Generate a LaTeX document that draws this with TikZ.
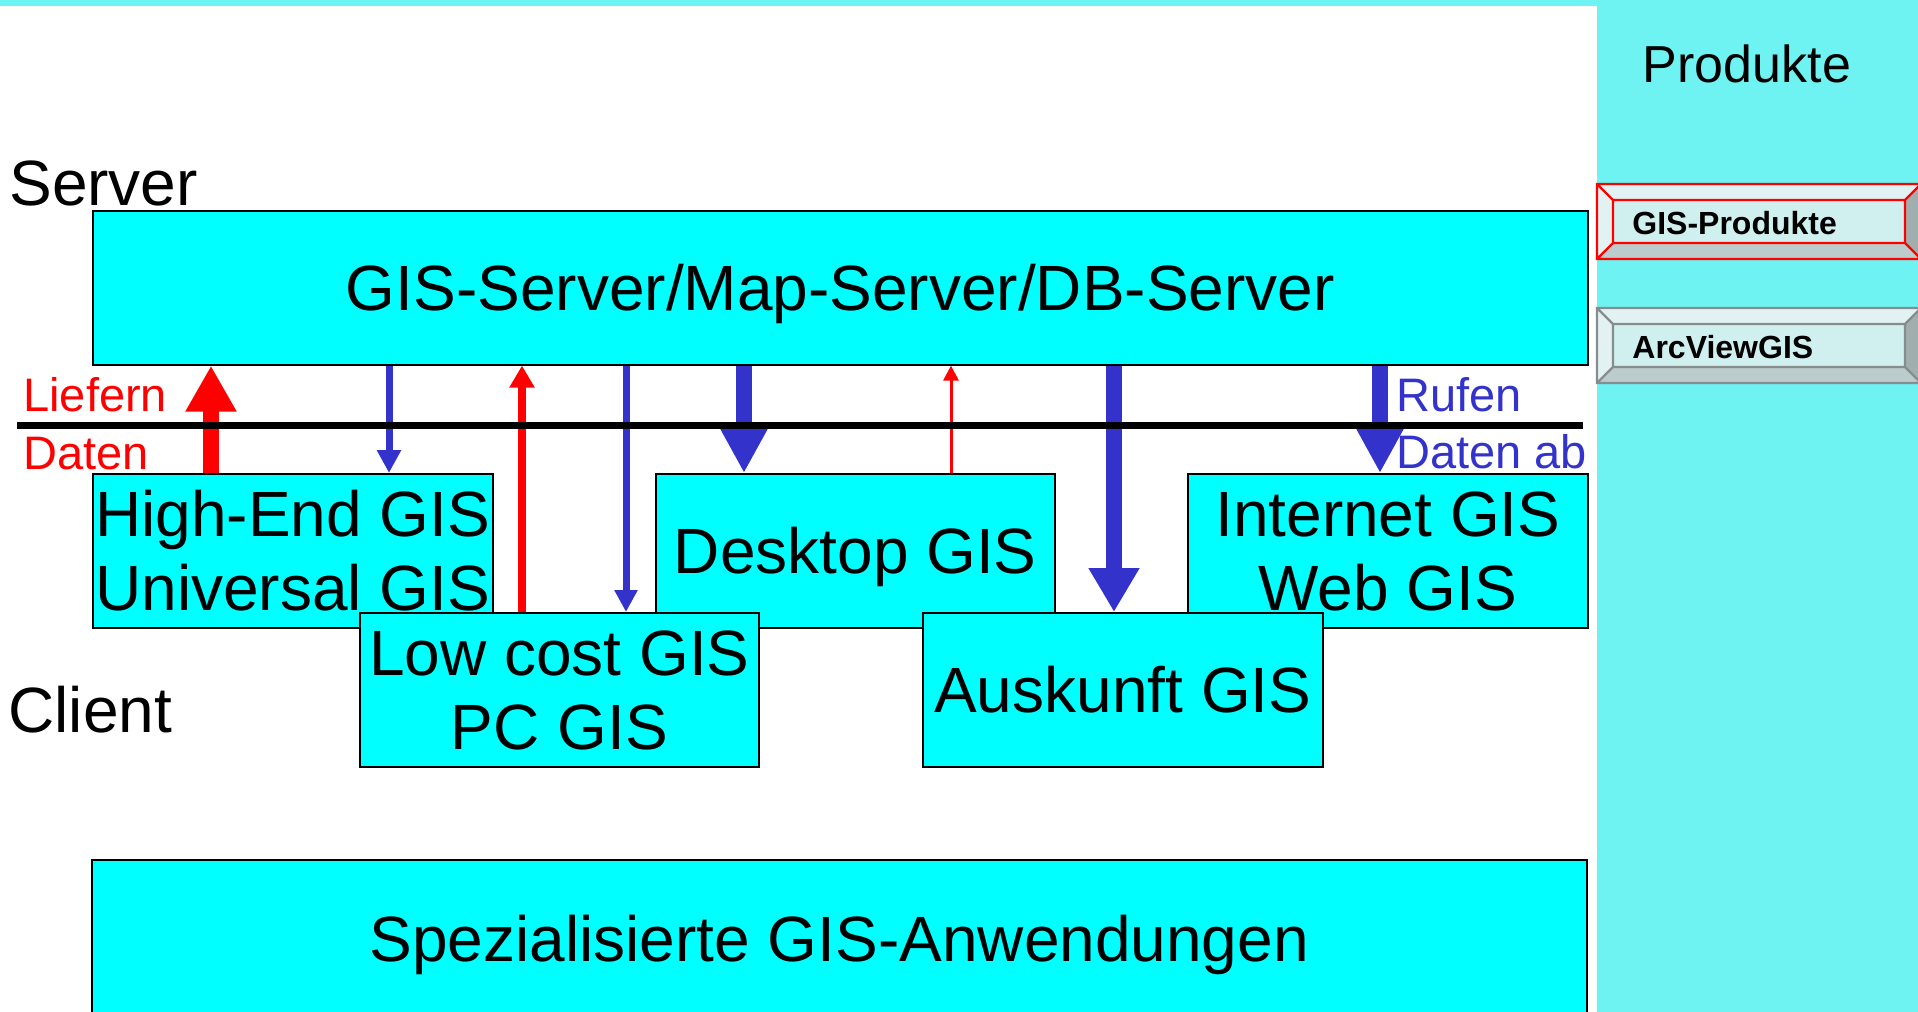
\documentclass[tikz,border=0pt]{standalone}
\usepackage{fontspec}
\setmainfont{Liberation Sans}
\usetikzlibrary{arrows.meta, positioning}

\definecolor{giscyan}{RGB}{0,255,255}
\definecolor{callblue}{RGB}{51,51,204}
\definecolor{panelcyan}{RGB}{110,242,242}
\definecolor{bevellight}{RGB}{226,242,242}
\definecolor{bevelface}{RGB}{208,240,240}
\definecolor{beveldark}{RGB}{188,204,204}
\definecolor{bevelshade}{RGB}{160,174,174}
\definecolor{btngray}{RGB}{135,140,140}

\begin{document}
\begin{tikzpicture}[x=0.5pt, y=-0.5pt,
    gisbox/.style={draw, line width=0.8pt, fill=giscyan, inner sep=0pt, anchor=north west,
        minimum height=77pt, align=center, text depth=0pt, font=\fontsize{32}{37}\selectfont},
    sidelabel/.style={anchor=base west, inner sep=0pt, font=\fontsize{32}{37}\selectfont},
    flowlabel/.style={anchor=base west, inner sep=0pt, font=\fontsize{23.5}{28}\selectfont},
    flow/.style n args={3}{line width=#1, -{Triangle[width=#2 0 0, length=#3 0 0]}},
    btnlabel/.style={anchor=base west, inner sep=0pt, font=\bfseries\fontsize{16}{19}\selectfont}]
    \useasboundingbox (0,0) rectangle (1918,1012);
    \clip (0,0) rectangle (1918,1012);

    % Produkte panel
    \fill[panelcyan] (0,0) rectangle (1918,6);
    \fill[panelcyan] (1597,0) rectangle (1930,1012);
    \node[anchor=base, font=\fontsize{26}{30}\selectfont] (produkte) at (1747,82) {Produkte};
    \foreach \y/\c/\t/\n in {184/red/GIS-Produkte/prod, 308/btngray/ArcViewGIS/arcview} {
        \fill[bevellight] (1597,\y) -- (1921,\y) -- (1905,\y+16) -- (1613,\y+16) -- cycle;
        \fill[bevellight] (1597,\y) -- (1613,\y+16) -- (1613,\y+59) -- (1597,\y+75) -- cycle;
        \fill[beveldark] (1597,\y+75) -- (1613,\y+59) -- (1905,\y+59) -- (1921,\y+75) -- cycle;
        \fill[bevelshade] (1921,\y) -- (1921,\y+75) -- (1905,\y+59) -- (1905,\y+16) -- cycle;
        \fill[bevelface] (1613,\y+16) rectangle (1905,\y+59);
        \draw[\c, line width=1.2pt] (1597,\y) rectangle (1921,\y+75)
            (1613,\y+16) rectangle (1905,\y+59)
            (1597,\y) -- (1613,\y+16) (1921,\y) -- (1905,\y+16)
            (1597,\y+75) -- (1613,\y+59) (1921,\y+75) -- (1905,\y+59);
        \node[btnlabel] (\n) at (1632,\y+50) {\t};
    }

    % Server and clients
    \node[sidelabel] (serverlbl) at (9,205) {Server};
    \node[sidelabel] (clientlbl) at (8,732) {Client};
    \node[gisbox, minimum width=747.5pt] (server) at (92,210) {GIS-Server/Map-Server/DB-Server};
    \node[gisbox, minimum width=200pt] (hiend) at (92,473) {High-End GIS\\Universal GIS};
    \node[gisbox, minimum width=199.5pt] (desktop) at (655,473) {Desktop GIS};
    \node[gisbox, minimum width=200pt] (internet) at (1187,473) {Internet GIS\\Web GIS};
    \node[gisbox, minimum width=199.5pt] (lowcost) at (359,612) {Low cost GIS\\PC GIS};
    \node[gisbox, minimum width=200pt] (auskunft) at (922,612) {Auskunft GIS};
    \node[gisbox, minimum width=747.5pt, minimum height=79pt] (spez) at (91,859) {Spezialisierte GIS-Anwendungen};

    % Data flows
    \foreach \i/\x in {1/211, 2/389, 3/522, 4/626, 5/744, 6/951, 7/1114, 8/1380}
        \coordinate (f\i) at (\x,0);
    \draw[red, flow={8pt}{24pt}{23pt}] (hiend.north -| f1) -- (server.south -| f1);
    \draw[callblue, flow={3.5pt}{11.5pt}{11.5pt}] (server.south -| f2) -- (hiend.north -| f2);
    \draw[red, flow={4pt}{12pt}{11pt}] (lowcost.north -| f3) -- (server.south -| f3);
    \draw[callblue, flow={3.5pt}{11pt}{11pt}] (server.south -| f4) -- (lowcost.north -| f4);
    \draw[callblue, flow={8pt}{22pt}{22pt}] (server.south -| f5) -- (desktop.north -| f5);
    \draw[red, flow={1.5pt}{7.5pt}{7.5pt}] (desktop.north -| f6) -- (server.south -| f6);
    \draw[callblue, flow={8pt}{24pt}{22pt}] (server.south -| f7) -- (auskunft.north -| f7);
    \draw[callblue, flow={8pt}{22pt}{22pt}] (server.south -| f8) -- (internet.north -| f8);

    % Divider
    \coordinate (divL) at (17,425.5);
    \coordinate (divR) at (1583,425.5);
    \draw[line width=3.5pt] (divL) -- (divR);
    \node[flowlabel, red] (liefern) at (23,411) {Liefern};
    \node[flowlabel, red] (daten) at (23,469) {Daten};
    \node[flowlabel, callblue] (rufen) at (1396,411) {Rufen};
    \node[flowlabel, callblue] (datenab) at (1396,468) {Daten ab};
\end{tikzpicture}
\end{document}
